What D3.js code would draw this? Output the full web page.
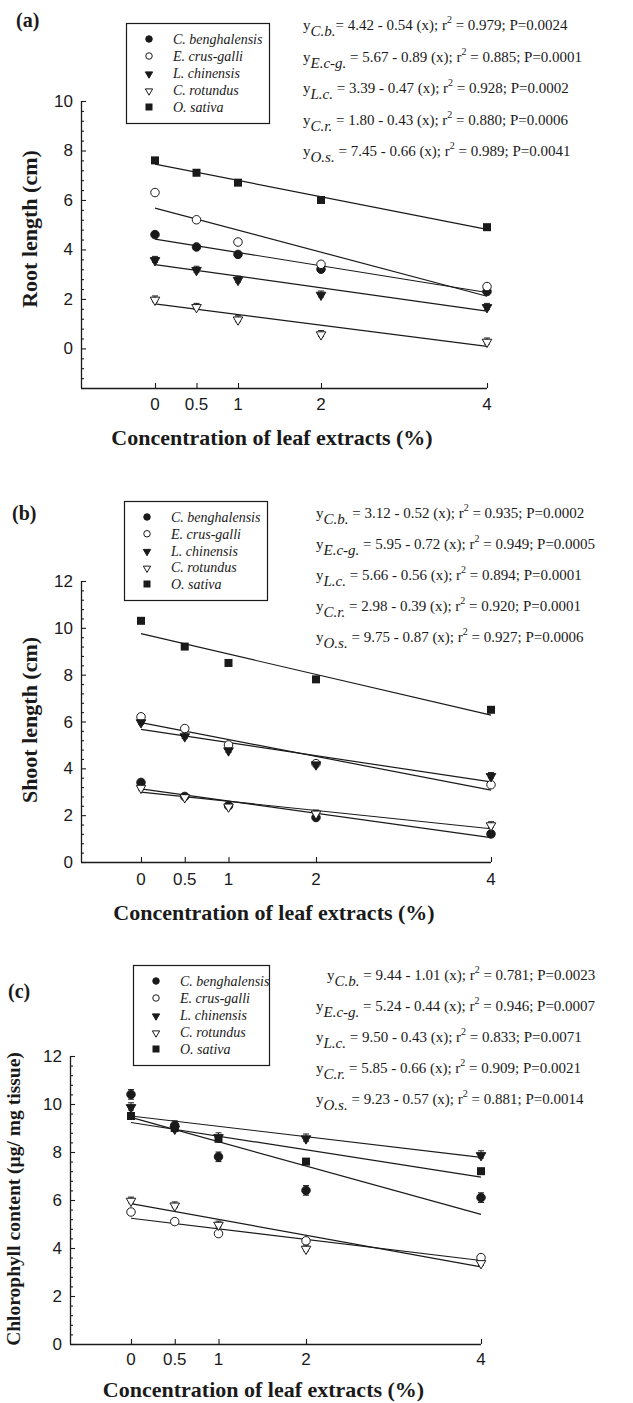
<!DOCTYPE html>
<html>
<head>
<meta charset="utf-8">
<script src="https://cdn.jsdelivr.net/npm/d3@7/dist/d3.min.js"></script>
<style>
  body { margin: 0; background: #fff; }
  svg text { fill: #1a1a1a; }
</style>
</head>
<body>
<div id="chart"></div>
<script>
// ---- data ----
const concentrations = [0, 0.5, 1, 2, 4];
const species = ["C. benghalensis", "E. crus-galli", "L. chinensis", "C. rotundus", "O. sativa"];
const abbrevs = ["C.b.", "E.c-g.", "L.c.", "C.r.", "O.s."];
const markers = ["dot", "ring", "tri", "triOpen", "square"];

// (a) root length (cm)
const rootCb = [4.6, 4.1, 3.8, 3.2, 2.3];
const rootEcg = [6.3, 5.2, 4.3, 3.4, 2.5];
const rootLc = [3.6, 3.2, 2.8, 2.2, 1.7];
const rootCr = [2.0, 1.7, 1.2, 0.6, 0.3];
const rootOs = [7.6, 7.1, 6.7, 6.0, 4.9];
const rootErr = [0.08, 0.08, 0.12, 0.12, 0.08];
const rootIntercept = [4.42, 5.67, 3.39, 1.80, 7.45];
const rootSlope = [0.54, 0.89, 0.47, 0.43, 0.66];
const rootR2 = ["0.979", "0.885", "0.928", "0.880", "0.989"];
const rootP = ["0.0024", "0.0001", "0.0002", "0.0006", "0.0041"];
const rootTicks = [0, 2, 4, 6, 8, 10];

// (b) shoot length (cm)
const shootCb = [3.4, 2.8, 2.4, 1.9, 1.2];
const shootEcg = [6.2, 5.7, 5.0, 4.2, 3.3];
const shootLc = [6.0, 5.4, 4.8, 4.2, 3.7];
const shootCr = [3.2, 2.8, 2.4, 2.1, 1.6];
const shootOs = [10.3, 9.2, 8.5, 7.8, 6.5];
const shootErr = [0.1, 0.1, 0.12, 0.12, 0.1];
const shootIntercept = [3.12, 5.95, 5.66, 2.98, 9.75];
const shootSlope = [0.52, 0.72, 0.56, 0.39, 0.87];
const shootR2 = ["0.935", "0.949", "0.894", "0.920", "0.927"];
const shootP = ["0.0002", "0.0005", "0.0001", "0.0001", "0.0006"];
const shootTicks = [0, 2, 4, 6, 8, 10, 12];

// (c) chlorophyll content
const chlCb = [10.4, 9.1, 7.8, 6.4, 6.1];
const chlEcg = [5.5, 5.1, 4.6, 4.3, 3.6];
const chlLc = [9.9, 9.0, 8.65, 8.6, 7.9];
const chlCr = [6.0, 5.8, 5.0, 4.0, 3.4];
const chlOs = [9.5, 9.0, 8.55, 7.6, 7.2];
const chlErr = [0.2, 0.12, 0.15, 0.12, 0.12];
const chlIntercept = [9.44, 5.24, 9.50, 5.85, 9.23];
const chlSlope = [1.01, 0.44, 0.43, 0.66, 0.57];
const chlR2 = ["0.781", "0.946", "0.833", "0.909", "0.881"];
const chlP = ["0.0023", "0.0007", "0.0071", "0.0021", "0.0014"];
const chlTicks = [0, 2, 4, 6, 8, 10, 12];

const xTitle = "Concentration of leaf extracts (%)";

const panels = [
  {
    tag: "(a)", yTitle: "Root length (cm)",
    series: [rootCb, rootEcg, rootLc, rootCr, rootOs], err: rootErr,
    intercept: rootIntercept, slope: rootSlope, r2: rootR2, p: rootP,
    yTicks: rootTicks, yDomain: [-1.6, 10],
    box: { tagX: 16, tagY: 27, legX: 126, legY: 23, legW: 143, legH: 100,
           eqX: 303, eqFirstDx: 0, firstSep: "= ", eqY: 30, eqDy: 31.5,
           axisX: 81, x0: 155, x4: 487, yTop: 101, yBot: 388,
           tickY: 410, titleY: 445, yTitleX: 30, yTitleY: 229, yTitleSize: 22 }
  },
  {
    tag: "(b)", yTitle: "Shoot length (cm)",
    series: [shootCb, shootEcg, shootLc, shootCr, shootOs], err: shootErr,
    intercept: shootIntercept, slope: shootSlope, r2: shootR2, p: shootP,
    yTicks: shootTicks, yDomain: [0, 12],
    box: { tagX: 12, tagY: 520, legX: 124, legY: 501, legW: 143, legH: 99,
           eqX: 316, eqFirstDx: 0, firstSep: " = ", eqY: 518, eqDy: 31,
           axisX: 81, x0: 141, x4: 491, yTop: 581, yBot: 862,
           tickY: 885, titleY: 920, yTitleX: 30, yTitleY: 720, yTitleSize: 22 }
  },
  {
    tag: "(c)", yTitle: "Chlorophyll content (\u00b5g/ mg tissue)",
    series: [chlCb, chlEcg, chlLc, chlCr, chlOs], err: chlErr,
    intercept: chlIntercept, slope: chlSlope, r2: chlR2, p: chlP,
    yTicks: chlTicks, yDomain: [0, 12],
    box: { tagX: 8, tagY: 998, legX: 133, legY: 965, legW: 136, legH: 100,
           eqX: 316, eqFirstDx: 11, firstSep: " = ", eqY: 980, eqDy: 31,
           axisX: 70, x0: 131, x4: 481, yTop: 1056, yBot: 1344,
           tickY: 1365, titleY: 1397, yTitleX: 13, yTitleY: 1199, yTitleSize: 19.5 }
  }
];

// ---- drawing ----
const svg = d3.select("#chart").append("svg")
  .attr("width", 633).attr("height", 1403);

const serif = "'Liberation Serif','Times New Roman',serif";
const sans = "'Liberation Sans',Arial,sans-serif";
const ink = "#1a1a1a";

function drawMarker(g, kind, x, y, s) {
  if (kind === "dot" || kind === "ring") {
    g.append("circle").attr("cx", x).attr("cy", y).attr("r", s * 0.5)
      .attr("fill", kind === "dot" ? ink : "#fff")
      .attr("stroke", ink).attr("stroke-width", 1);
  } else if (kind === "square") {
    g.append("rect").attr("x", x - s / 2).attr("y", y - s / 2)
      .attr("width", s).attr("height", s).attr("fill", ink);
  } else {
    const path = d3.symbol().type(d3.symbolTriangle).size(s * s * 0.55)();
    g.append("path").attr("d", path)
      .attr("transform", `translate(${x},${y + 1}) rotate(180)`)
      .attr("fill", kind === "tri" ? ink : "#fff")
      .attr("stroke", ink).attr("stroke-width", 1);
  }
}

function drawPanel(p) {
  const b = p.box;
  const g = svg.append("g");

  const x = d3.scaleLinear().domain([0, 4]).range([b.x0, b.x4]);
  const y = d3.scaleLinear().domain(p.yDomain).range([b.yBot, b.yTop]);

  // panel tag
  g.append("text").attr("x", b.tagX).attr("y", b.tagY)
    .style("font-family", serif).style("font-weight", "bold").style("font-size", "20px")
    .text(p.tag);

  // y axis (ticks inside)
  const yAxis = d3.axisRight(y).tickValues(p.yTicks).tickSize(5).tickFormat("");
  const minor = d3.range(Math.round(p.yDomain[0] * 10), Math.round(p.yDomain[1] * 10) + 1, 4)
    .map(v => v / 10).filter(v => !p.yTicks.includes(v));
  const yMinor = d3.axisRight(y).tickValues(minor).tickSize(3).tickFormat("");
  g.append("g").attr("transform", `translate(${b.axisX},0)`).call(yAxis)
    .call(a => a.select(".domain").attr("d", `M0.5,${b.yTop}V${b.yBot}`));
  g.append("g").attr("transform", `translate(${b.axisX},0)`).call(yMinor)
    .call(a => a.select(".domain").remove());
  g.selectAll(".tick line").attr("stroke", ink).attr("stroke-width", 1.1);
  g.selectAll(".domain").attr("stroke", ink).attr("stroke-width", 1.3);

  g.selectAll(".ylab").data(p.yTicks).join("text").attr("class", "ylab")
    .attr("x", b.axisX - 8).attr("y", d => y(d) + 6)
    .attr("text-anchor", "end")
    .style("font-family", sans).style("font-size", "17px")
    .text(d => d);

  // x axis (ticks inside, axis starts at y-axis)
  const xAxis = d3.axisTop(x).tickValues(concentrations).tickSize(5).tickFormat("");
  g.append("g").attr("transform", `translate(0,${b.yBot})`).call(xAxis)
    .call(a => a.select(".domain").attr("d", `M${b.axisX},0.5H${b.x4}`))
    .call(a => a.selectAll(".tick line").attr("stroke", ink).attr("stroke-width", 1.1))
    .call(a => a.select(".domain").attr("stroke", ink).attr("stroke-width", 1.3));

  g.selectAll(".xlab").data(concentrations).join("text").attr("class", "xlab")
    .attr("x", d => x(d)).attr("y", b.tickY)
    .attr("text-anchor", "middle")
    .style("font-family", sans).style("font-size", "17px")
    .text(d => d);

  // axis titles
  g.append("text").attr("x", (b.axisX + b.x4) / 2 - 12).attr("y", b.titleY)
    .attr("text-anchor", "middle")
    .style("font-family", serif).style("font-weight", "bold").style("font-size", "22px")
    .text(xTitle);
  g.append("text")
    .attr("transform", `translate(${b.yTitleX + 7},${b.yTitleY}) rotate(-90)`)
    .attr("text-anchor", "middle")
    .style("font-family", serif).style("font-weight", "bold").style("font-size", b.yTitleSize + "px")
    .text(p.yTitle);

  // regression lines
  species.forEach((s, i) => {
    g.append("line")
      .attr("x1", x(0)).attr("y1", y(p.intercept[i]))
      .attr("x2", x(4)).attr("y2", y(p.intercept[i] - p.slope[i] * 4))
      .attr("stroke", ink).attr("stroke-width", 1.2);
  });

  // error bars and markers
  species.forEach((s, i) => {
    p.series[i].forEach((v, j) => {
      const cx = x(concentrations[j]);
      const e = p.err[i];
      g.append("path")
        .attr("d", `M${cx},${y(v - e)}V${y(v + e)}M${cx - 3},${y(v - e)}H${cx + 3}M${cx - 3},${y(v + e)}H${cx + 3}`)
        .attr("stroke", ink).attr("stroke-width", 1).attr("fill", "none");
    });
  });
  species.forEach((s, i) => {
    p.series[i].forEach((v, j) => {
      drawMarker(g, markers[i], x(concentrations[j]), y(v), markers[i] === "square" ? 8 : 8.5);
    });
  });

  // legend box
  g.append("rect").attr("x", b.legX + 0.5).attr("y", b.legY + 0.5)
    .attr("width", b.legW).attr("height", b.legH)
    .attr("fill", "#fff").attr("stroke", ink).attr("stroke-width", 1.2);
  const rowH = (b.legH - 32) / 4;
  species.forEach((s, i) => {
    const ry = b.legY + 16 + i * rowH;
    drawMarker(g, markers[i], b.legX + 23, ry, markers[i] === "square" ? 7 : 6.5);
    g.append("text").attr("x", b.legX + 47).attr("y", ry + 5)
      .style("font-family", serif).style("font-style", "italic").style("font-size", "14px")
      .text(s);
  });

  // equations
  species.forEach((s, i) => {
    const t = g.append("text").attr("x", b.eqX + (i === 0 ? b.eqFirstDx : 0)).attr("y", b.eqY + i * b.eqDy)
      .style("font-family", serif).style("font-size", "15px");
    t.append("tspan").text("y");
    t.append("tspan").attr("dy", 6).style("font-style", "italic").text(abbrevs[i]);
    t.append("tspan").attr("dy", -6)
      .text(`${i === 0 ? b.firstSep : " = "}${p.intercept[i].toFixed(2)} - ${p.slope[i].toFixed(2)} (x); r`);
    t.append("tspan").attr("dy", -7).style("font-size", "10px").text("2");
    t.append("tspan").attr("dy", 7).text(` = ${p.r2[i]}; P=${p.p[i]}`);
  });
}

panels.forEach(drawPanel);
</script>
</body>
</html>
